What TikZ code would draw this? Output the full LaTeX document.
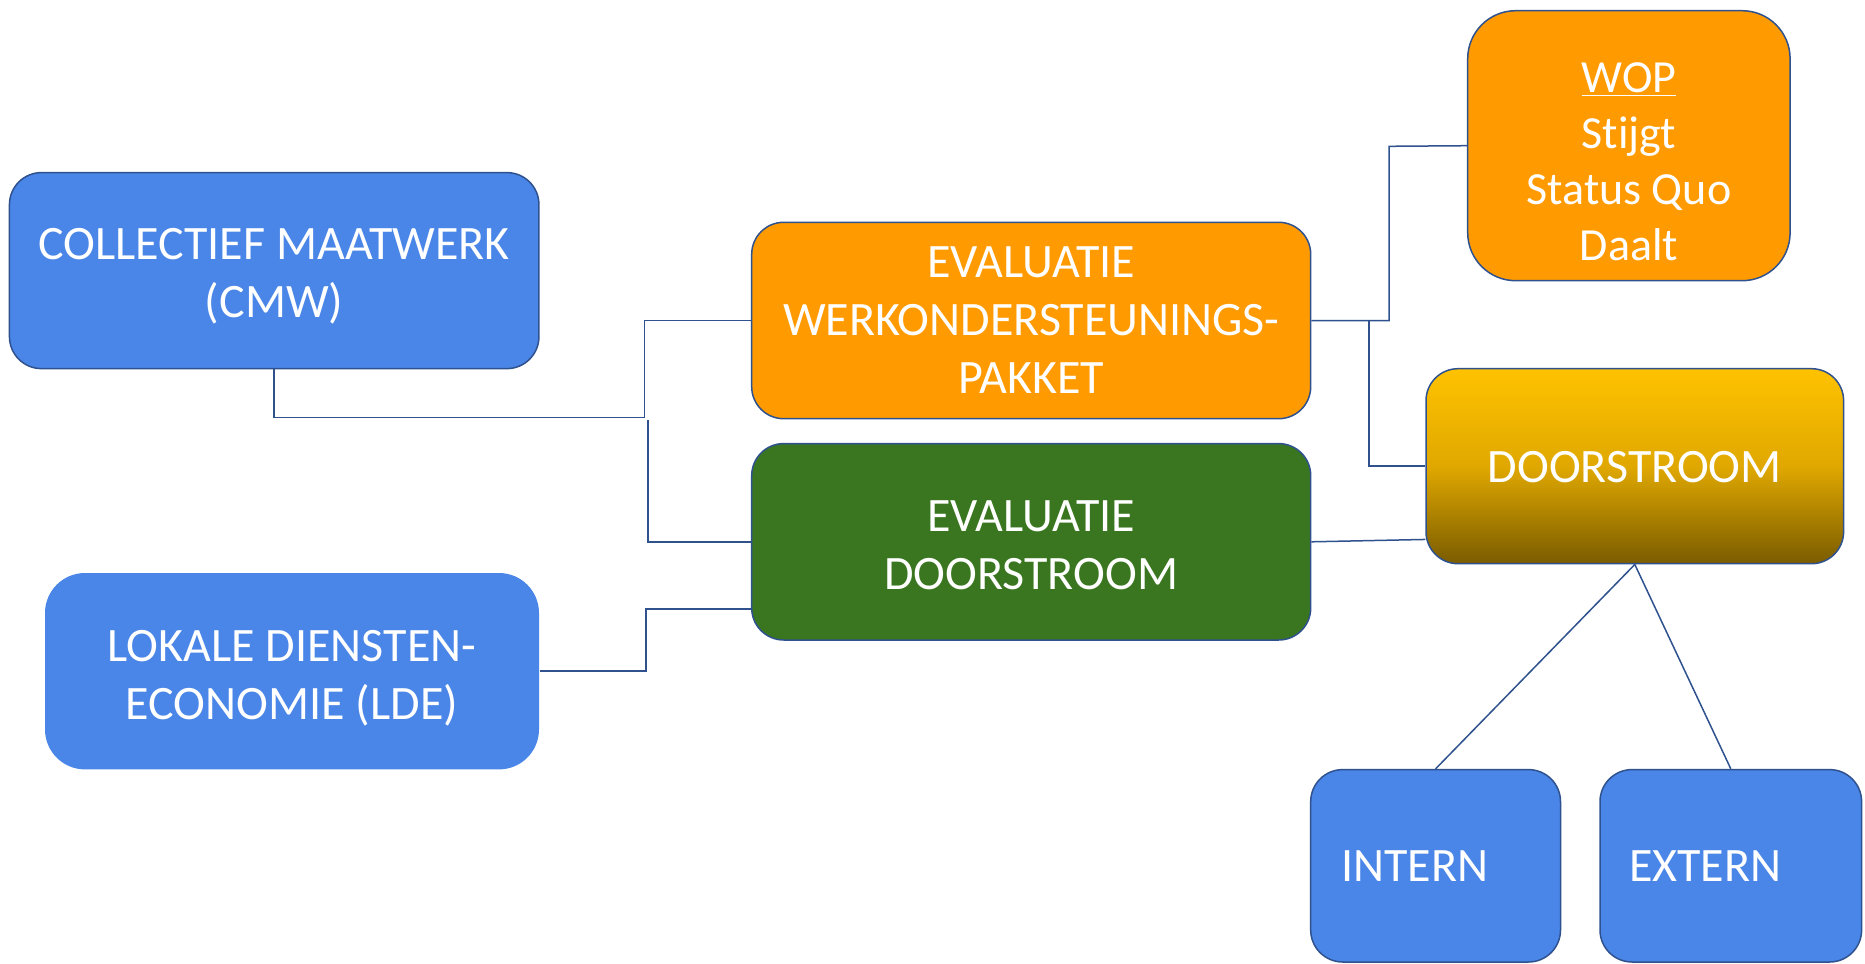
\documentclass[tikz,border=0pt]{standalone}
\usepackage{fontspec}
\setmainfont{Carlito}[Ligatures=NoCommon]
\definecolor{lineblue}{HTML}{2F528F}
\definecolor{boxblue}{HTML}{4A86E8}
\definecolor{boxorange}{HTML}{FF9A00}
\definecolor{boxgreen}{HTML}{3A7620}
\definecolor{goldtop}{HTML}{FFC200}
\definecolor{goldmid}{HTML}{E0A800}
\definecolor{goldbot}{HTML}{7A5C00}
\begin{document}
\begin{tikzpicture}[x=0.5pt,y=-0.5pt,
  box/.style={draw=lineblue, line width=0.75pt, rounded corners=16pt, inner sep=0pt},
  lbl/.style={text=white, align=center, font=\fontsize{24}{29}\selectfont, inner sep=0pt},
  wlbl/.style={text=white, align=center, font=\fontsize{23}{28}\selectfont, inner sep=0pt},
  conn/.style={draw=lineblue, line width=0.75pt}]
\useasboundingbox (0,0) rectangle (1865,964);
\fill[white] (0,0) rectangle (1865,964);

% boxes
\node[box, fill=boxblue, minimum width=264.75pt, minimum height=98pt] (cmw) at (274.2,270.6) {};
\node[lbl] (cmwtext) at ([yshift=-3pt]cmw.center) {COLLECTIEF MAATWERK\\(CMW)};
\node[box, fill=boxblue, draw=none, minimum width=247pt, minimum height=98.2pt, rounded corners=20pt] (lde) at (292,671.2) {};
\node[lbl] (ldetext) at ([yshift=-3.3pt]lde.center) {LOKALE DIENSTEN-\\ECONOMIE (LDE)};
\node[box, fill=boxorange, minimum width=279.5pt, minimum height=98.2pt] (evw) at (1031.2,320.5) {};
\node[lbl] (evwtext) at (evw.center) {EVALUATIE\\WERKONDERSTEUNINGS-\\PAKKET};
\node[box, fill=boxgreen, minimum width=279.5pt, minimum height=98.2pt] (evd) at (1031.2,541.8) {};
\node[lbl] (evdtext) at ([yshift=-1.5pt]evd.center) {EVALUATIE\\DOORSTROOM};
\node[box, fill=boxorange, minimum width=161.2pt, minimum height=135pt, rounded corners=24pt] (wop) at (1628.9,145.7) {};
\node[wlbl] (woptext) at ([yshift=-8pt]wop.center)
  {\underline{WOP}\\Stijgt\\Status Quo\\Daalt};
\node[box, top color=goldtop, bottom color=goldbot, middle color=goldmid, minimum width=208.8pt, minimum height=97.5pt] (door) at (1634.8,466.2) {};
\node[lbl] (doortext) at ([yshift=-0.5pt]door.center) {DOORSTROOM};
\node[box, fill=boxblue, minimum width=124.9pt, minimum height=96.2pt] (intern) at (1435.6,865.8) {};
\node[lbl, anchor=west] (interntext) at ([xshift=15.5pt]intern.west) {INTERN};
\node[box, fill=boxblue, minimum width=130.8pt, minimum height=96.2pt] (extern) at (1730.8,865.8) {};
\node[lbl, anchor=west] (externtext) at ([xshift=14.7pt]extern.west) {EXTERN};

% connectors
\coordinate (j1) at (644.6,417.5);
\coordinate (j2) at (648,419.9);
\coordinate (j3) at (645.8,609);
\coordinate (j4) at (1389,146.3);
\coordinate (j5) at (1369,320.5);
\draw[conn] (cmw.south) |- (j1) |- (evw.west);
\draw[conn] (j2) |- (evd.west);
\draw[conn] (lde.east) -| (j3) -- (j3 -| evd.west);
\draw[conn] (evw.east) -| (j4) -- (wop.west);
\draw[conn] (j5) |- (door.west);
\draw[conn] (evd.east) -- ([yshift=12.5pt]door.south west);
\draw[conn] (door.south) -- (intern.north);
\draw[conn] (door.south) -- (extern.north);
\end{tikzpicture}
\end{document}
